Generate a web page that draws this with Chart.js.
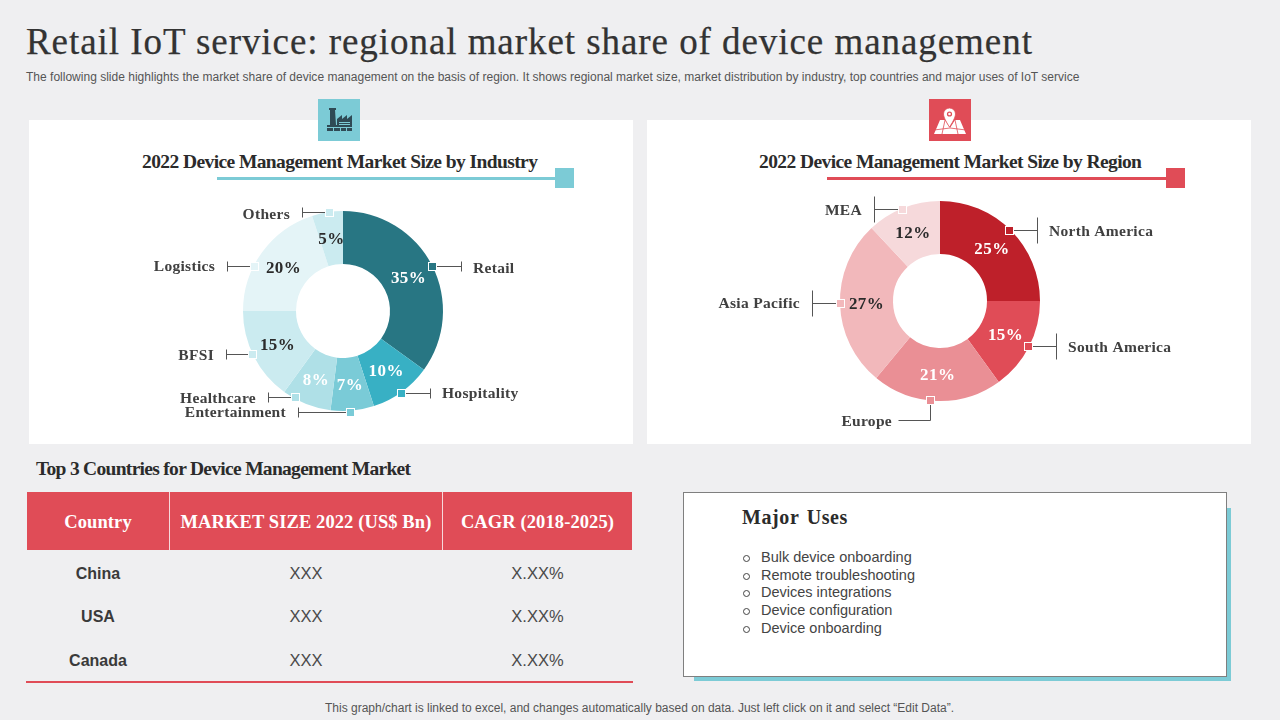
<!DOCTYPE html>
<html>
<head>
<meta charset="utf-8">
<title>Retail IoT service</title>
<script src="https://cdn.jsdelivr.net/npm/chart.js@4"></script>
<style>
  html, body { margin: 0; padding: 0; }
  body { width: 1280px; height: 720px; background: #efeff1; position: relative; overflow: hidden; color: #333; }
  .abs { position: absolute; white-space: nowrap; }
  .serif { font-family: "Liberation Serif", serif; }
  .sans { font-family: "Liberation Sans", Arial, sans-serif; }
  .panel { background: #fff; top: 120px; width: 604px; height: 324px; }
  .cell { text-align: center; line-height: 20px; }
  canvas { position: absolute; }
</style>
</head>
<body>
<div class="abs serif" style="left:26px;top:20px;font-size:37px;line-height:44px;letter-spacing:0.94px;color:#333;-webkit-text-stroke:0.25px #333">Retail IoT service: regional market share of device management</div>
<div class="abs sans" style="left:26px;top:70px;font-size:12px;line-height:15px;color:#555;letter-spacing:0.01px">The following slide highlights the market share of device management on the basis of region. It shows regional market size, market distribution by industry, top countries and major uses of IoT service</div>

<div class="abs panel" style="left:29px"></div>
<div class="abs panel" style="left:647px"></div>

<svg class="abs" style="left:318px;top:99px" width="42" height="42" viewBox="0 0 42 42">
  <rect width="42" height="42" fill="#7ccbd6"/>
  <path fill="#2f4a55" d="M12 11h5l1 15h-6zM11 9h7v2h-7zM19 20l5-4v4l5-4v4l5-4v11H19zM9 26h25v6H9z"/>
  <path fill="#7ccbd6" d="M21 23h11v1H21zM21 25h11v1H21zM9 28h25v1H9zM15 29h1v3h-1zM22 29h1v3h-1zM28 29h1v3h-1z"/>
</svg>
<svg class="abs" style="left:929px;top:99px" width="42" height="42" viewBox="0 0 42 42">
  <rect width="42" height="42" fill="#e04c57"/>
  <path fill="#fff" d="M11 21L5 35H37L31 21H26L21 29L16 21Z"/>
  <path fill="none" stroke="#e04c57" stroke-width="0.8" d="M16 21L13 35M26 21L29 35M5 31L21 29L37 31"/>
  <path fill="#fff" stroke="#e04c57" stroke-width="0.8" d="M20.5 9a6 6 0 0 0-6 6c0 4.5 6 13 6 13s6-8.500 6-13a6 6 0 0 0-6-6z"/>
  <circle cx="20.5" cy="15" r="2.6" fill="#e04c57"/><circle cx="20.500" cy="15" r="1.3" fill="#fff"/>
</svg>

<div class="abs serif" style="left:142px;top:150px;font-size:19.5px;line-height:23px;font-weight:bold;color:#2b2b2b;letter-spacing:-0.59px" id="titleIndustry"></div>
<div class="abs" style="left:217px;top:177px;width:338px;height:3px;background:#7ccbd6"></div>
<div class="abs" style="left:555px;top:168px;width:19px;height:20px;background:#7ccbd6"></div>
<div class="abs serif" style="left:759px;top:150px;font-size:19.5px;line-height:23px;font-weight:bold;color:#2b2b2b;letter-spacing:-0.59px" id="titleRegion"></div>
<div class="abs" style="left:827px;top:177px;width:339px;height:3px;background:#e04c57"></div>
<div class="abs" style="left:1166px;top:168px;width:19px;height:20px;background:#e04c57"></div>

<canvas id="industryChart" width="600" height="260" style="left:43px;top:181px"></canvas>
<canvas id="regionChart" width="600" height="260" style="left:640px;top:171px"></canvas>

<div class="abs serif" style="left:36px;top:457px;font-size:19.5px;line-height:24px;font-weight:bold;color:#2b2b2b;letter-spacing:-0.7px">Top 3 Countries for Device Management Market</div>
<div id="table"></div>

<div class="abs" style="left:694px;top:508px;width:537px;height:173px;background:#7ccbd6"></div>
<div class="abs" style="left:683px;top:492px;width:542px;height:183px;background:#fff;border:1px solid #7f7f7f"></div>
<div class="abs serif" style="left:742px;top:505px;font-size:20px;line-height:24px;font-weight:bold;letter-spacing:0.6px;word-spacing:2px;color:#2b2b2b">Major Uses</div>
<div id="uses"></div>

<div class="abs sans" style="left:325px;top:701px;font-size:12px;line-height:15px;color:#555">This graph/chart is linked to excel, and changes automatically based on data. Just left click on it and select “Edit Data”.</div>

<script>
const industryLabels = ['Retail', 'Hospitality', 'Entertainment', 'Healthcare', 'BFSI', 'Logistics', 'Others']
const industryValues = [35, 10, 7, 8, 15, 20, 5]
const regionLabels = ['North America', 'South America', 'Europe', 'Asia Pacific', 'MEA']
const regionValues = [25, 15, 21, 27, 12]

const tableHeaders = ['Country', 'MARKET SIZE 2022 (US$ Bn)', 'CAGR (2018-2025)']
const countries = ['China', 'USA', 'Canada']
const marketSizes = ['XXX', 'XXX', 'XXX']
const cagrs = ['X.XX%', 'X.XX%', 'X.XX%']
const majorUses = ['Bulk device onboarding', 'Remote troubleshooting', 'Devices integrations', 'Device configuration', 'Device onboarding']

const industryColors = ['#287683', '#38b0c4', '#7acbd7', '#afe0e7', '#cbebf0', '#e4f4f7', '#cbebf0']
const industryText = ['#fff', '#fff', '#fff', '#fff', '#2b2b2b', '#2b2b2b', '#2b2b2b']
const regionColors = ['#be202a', '#e04c57', '#ea8f95', '#f2b8bb', '#f6d9db']
const regionText = ['#fff', '#fff', '#fff', '#2b2b2b', '#2b2b2b']

// callout styling per slice: nudge from the arc edge, leader run, tick half height
const industryCallouts = [
  { nudge: [0, 0], run: 29, tick: 5, textDy: 3 },
  { nudge: [-1, 1], run: 29, tick: 5, textDy: 1 },
  { nudge: [-2, 1], run: -52, tick: 5, textDy: 1 },
  { nudge: [-11, -7], run: -27, tick: 5, textDy: 2 },
  { nudge: [-2, -2], run: -26, tick: 5, textDy: 2 },
  { nudge: [-8, 14], run: -27, tick: 5, textDy: 1 },
  { nudge: [2, 0], run: -27, tick: 5, textDy: 3 }
]
const regionCallouts = [
  { nudge: [-2, 0], run: 28, tick: 13, textDy: 2 },
  { nudge: [-1, 0], run: 28, tick: 13, textDy: 2 },
  { nudge: [-7, -1], run: -32, drop: 20, tick: 0, textDy: 2 },
  { nudge: [0, -1], run: -28, tick: 13, textDy: 1 },
  { nudge: [-1, 1], run: -28, tick: 13, textDy: 2 }
]

const calloutPlugin = {
  id: 'callouts',
  afterDatasetsDraw(chart, args, opts) {
    const ctx = chart.ctx
    const arcs = chart.getDatasetMeta(0).data
    ctx.save()
    arcs.forEach((arc, i) => {
      const mid = (arc.startAngle + arc.endAngle) / 2
      const inner = (arc.innerRadius + arc.outerRadius) / 2

      ctx.letterSpacing = '0.4px'
      ctx.font = 'bold 17px "Liberation Serif"'
      ctx.fillStyle = opts.textColors[i]
      ctx.textAlign = 'center'
      ctx.textBaseline = 'middle'
      ctx.fillText(chart.data.datasets[0].data[i] + '%', arc.x + Math.cos(mid) * inner, arc.y + Math.sin(mid) * inner + 1)

      const c = opts.callouts[i]
      const px = Math.round(arc.x + Math.cos(mid) * arc.outerRadius + c.nudge[0])
      const py = Math.round(arc.y + Math.sin(mid) * arc.outerRadius + c.nudge[1])
      const lineY = py + (c.drop || 0)
      const endX = px + c.run

      ctx.strokeStyle = '#555'
      ctx.lineWidth = 1
      ctx.beginPath()
      ctx.moveTo(px + 0.5, py + 0.5)
      ctx.lineTo(px + 0.5, lineY + 0.5)
      ctx.lineTo(endX + 0.5, lineY + 0.5)
      if (c.tick) {
        ctx.moveTo(endX + 0.5, lineY - c.tick + 0.5)
        ctx.lineTo(endX + 0.5, lineY + c.tick + 0.5)
      }
      ctx.stroke()

      ctx.fillStyle = chart.data.datasets[0].backgroundColor[i]
      ctx.strokeStyle = '#fff'
      ctx.fillRect(px - 4, py - 4, 8, 8)
      ctx.strokeRect(px - 3.5, py - 3.5, 8, 8)

      ctx.letterSpacing = '0.3px'
      ctx.font = 'bold 15.5px "Liberation Serif"'
      ctx.fillStyle = '#404040'
      ctx.textAlign = c.run > 0 ? 'left' : 'right'
      ctx.fillText(chart.data.labels[i], endX + (c.run > 0 ? 12 : -(c.tick ? 12 : 6)), lineY + c.textDy)
    })
    ctx.restore()
  }
}

function donut(id, labels, values, colors, textColors, callouts) {
  return new Chart(document.getElementById(id), {
    type: 'doughnut',
    data: {
      labels: labels,
      datasets: [{ data: values, backgroundColor: colors, borderWidth: 0 }]
    },
    options: {
      responsive: false,
      animation: false,
      events: [],
      cutout: '47%',
      layout: { padding: 30 },
      plugins: {
        legend: { display: false },
        tooltip: { enabled: false },
        callouts: { textColors: textColors, callouts: callouts }
      }
    },
    plugins: [calloutPlugin]
  })
}

donut('industryChart', industryLabels, industryValues, industryColors, industryText, industryCallouts)
donut('regionChart', regionLabels, regionValues, regionColors, regionText, regionCallouts)

document.getElementById('titleIndustry').textContent = '2022 Device Management Market Size by Industry'
document.getElementById('titleRegion').textContent = '2022 Device Management Market Size by Region'

// table and list are plain positioned divs
function addDiv(parent, cls, css, text) {
  const d = document.createElement('div')
  d.className = 'abs ' + cls
  d.style.cssText = css
  d.textContent = text
  parent.appendChild(d)
}

const tableEl = document.getElementById('table')
const colX = [27, 170, 443]
const colW = [142, 272, 189]
const rowY = [574, 617, 661]
addDiv(tableEl, '', 'left:27px;top:492px;width:605px;height:58px;background:#e04c57', '')
addDiv(tableEl, '', 'left:169px;top:492px;width:1px;height:58px;background:#f6d9db', '')
addDiv(tableEl, '', 'left:442px;top:492px;width:1px;height:58px;background:#f6d9db', '')
addDiv(tableEl, '', 'left:26px;top:681px;width:607px;height:2px;background:#e04c57', '')
tableHeaders.forEach((h, i) => {
  addDiv(tableEl, 'serif cell', `left:${colX[i]}px;top:512px;width:${colW[i]}px;font-size:18.5px;letter-spacing:0.1px;font-weight:bold;color:#fff`, h)
})
countries.forEach((name, r) => {
  const top = rowY[r] - 10
  addDiv(tableEl, 'sans cell', `left:${colX[0]}px;top:${top}px;width:${colW[0]}px;font-size:16px;font-weight:bold;color:#3a3a3a`, name)
  addDiv(tableEl, 'sans cell', `left:${colX[1]}px;top:${top - 1}px;width:${colW[1]}px;font-size:16.5px;color:#4a4a4a`, marketSizes[r])
  addDiv(tableEl, 'sans cell', `left:${colX[2]}px;top:${top - 1}px;width:${colW[2]}px;font-size:16.5px;color:#4a4a4a`, cagrs[r])
})

const usesEl = document.getElementById('uses')
const useY = [557, 575, 592, 610, 628]
majorUses.forEach((u, i) => {
  addDiv(usesEl, '', `left:743px;top:${useY[i] - 2}px;width:5px;height:5px;border:1px solid #444;border-radius:50%`, '')
  addDiv(usesEl, 'sans', `left:761px;top:${useY[i] - 10}px;font-size:14.5px;line-height:20px;color:#444`, u)
})
</script>
</body>
</html>
